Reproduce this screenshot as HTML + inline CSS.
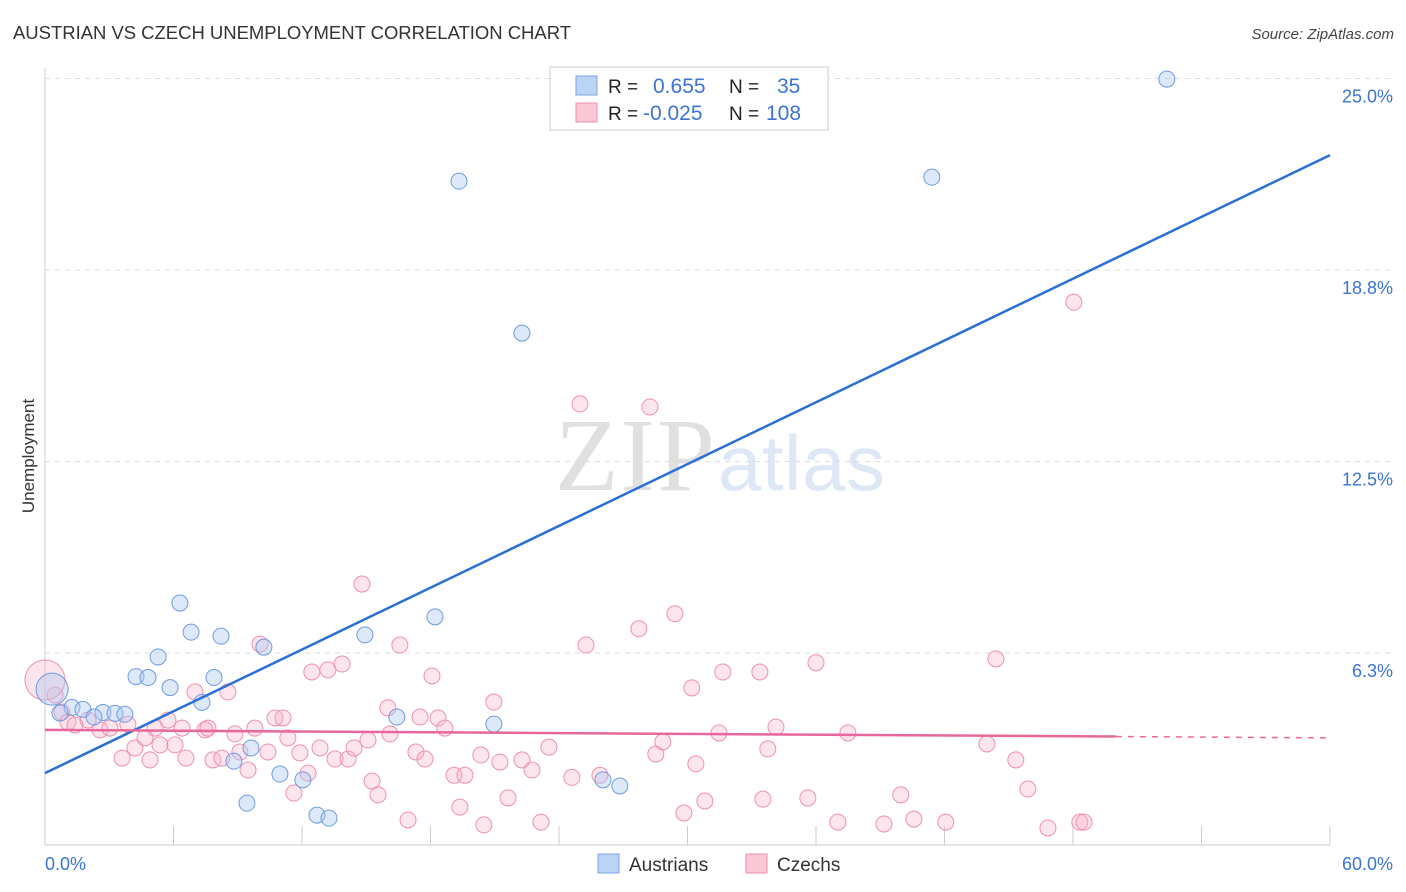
<!DOCTYPE html>
<html><head><meta charset="utf-8"><style>
body{margin:0;background:#fff;font-family:"Liberation Sans",sans-serif}
svg{display:block}
</style></head><body>
<svg id="c" width="1406" height="892" viewBox="0 0 1406 892">
<text x="13" y="39" font-size="18.5" fill="#333" textLength="558">AUSTRIAN VS CZECH UNEMPLOYMENT CORRELATION CHART</text>
<text x="1394" y="39" font-size="15" fill="#444" font-style="italic" text-anchor="end">Source: ZipAtlas.com</text>
<text x="34" y="456" font-size="17" fill="#333" text-anchor="middle" transform="rotate(-90 34 456)">Unemployment</text>
<g><text x="555" y="490" font-size="104" fill="#e0e0e0" font-family="Liberation Serif,serif" textLength="160">ZIP</text><text x="718" y="490" font-size="78" fill="#dde7f5" textLength="167">atlas</text></g>
<g id="grid"></g><g id="pts"></g><g id="lines"></g>
<g>
<rect x="550" y="67" width="278" height="63" fill="#fff" stroke="#ccc"/>
<rect x="576" y="76" width="21" height="19" fill="#bcd4f4" stroke="#7aa4e0"/>
<rect x="576" y="103" width="21" height="19" fill="#fbc8d8" stroke="#ee90ae"/>
<text x="608" y="93" font-size="19" fill="#222">R =</text><text x="653" y="93" font-size="21" fill="#3b74d1">0.655</text>
<text x="729" y="93" font-size="19" fill="#222">N =</text><text x="777" y="93" font-size="21" fill="#3b74d1">35</text>
<text x="608" y="120" font-size="19" fill="#222">R =</text><text x="643" y="120" font-size="21" fill="#3b74d1">-0.025</text>
<text x="729" y="120" font-size="19" fill="#222">N =</text><text x="766" y="120" font-size="21" fill="#3b74d1">108</text>
</g>
<g>
<rect x="598" y="854" width="21" height="19" fill="#bcd4f4" stroke="#7aa4e0"/><text x="629" y="871" font-size="19" fill="#333">Austrians</text>
<rect x="746" y="854" width="21" height="19" fill="#fbc8d8" stroke="#ee90ae"/><text x="777" y="871" font-size="19" fill="#333">Czechs</text>
</g>
</svg>
<script>
const yTicks=[6.25,12.5,18.75,25];
const yTickLabels=["6.3%","12.5%","18.8%","25.0%"];
const xTickVals=[0,6,12,18,24,30,36,42,48,54,60];
const xEndLabels=["0.0%","60.0%"];
const austX=[52.38,19.33,41.41,22.27,6.30,6.82,8.22,10.22,14.94,18.21,5.28,4.25,4.81,5.84,7.89,7.33,1.26,1.77,2.71,3.27,3.73,2.29,0.70,16.43,20.96,9.62,8.82,10.97,12.04,9.43,12.70,13.26,26.05,26.84,0.33];
const austY=[24.98,21.65,21.78,16.69,7.88,6.93,6.80,6.44,6.84,7.43,6.12,5.48,5.45,5.12,5.45,4.64,4.47,4.41,4.31,4.28,4.25,4.16,4.29,4.16,3.93,3.15,2.72,2.30,2.11,1.35,0.96,0.86,2.11,1.91,5.07];
const czX=[0.47,0.79,1.07,1.4,2.01,2.57,3.03,3.6,3.87,4.2,4.67,4.9,5.14,5.37,5.74,6.07,6.4,6.58,7.0,7.47,7.61,7.84,8.26,8.54,8.87,9.1,9.48,9.8,10.04,10.41,10.74,11.11,11.34,11.62,11.9,12.28,12.46,12.84,13.21,13.54,13.87,14.15,14.43,14.8,15.08,15.27,15.55,16.01,16.11,16.57,16.95,17.32,17.51,17.74,18.07,18.35,18.67,19.1,19.37,19.61,20.35,20.49,20.96,21.24,21.62,22.27,22.74,23.16,23.53,24.6,24.98,25.26,25.91,27.73,28.25,28.52,28.85,29.41,29.83,30.2,30.39,30.81,31.47,31.65,33.38,33.52,33.75,34.13,35.62,36.0,37.02,37.49,39.17,39.96,40.57,42.06,43.98,44.4,45.33,45.89,46.83,48.04,48.32,48.51];
const czY=[4.88,4.32,4.0,3.9,4.06,3.74,3.8,2.82,3.93,3.15,3.48,2.76,3.8,3.25,4.06,3.25,3.8,2.82,4.98,3.74,3.8,2.76,2.82,4.98,3.61,3.02,2.43,3.8,6.54,3.02,4.13,4.13,3.48,1.68,2.99,2.33,5.63,3.15,5.7,2.79,5.89,2.79,3.15,8.5,3.41,2.07,1.62,4.46,3.61,6.51,0.8,3.02,4.16,2.79,5.5,4.13,3.8,2.26,1.22,2.26,2.92,0.64,4.65,2.69,1.52,2.76,2.43,0.73,3.18,2.19,14.38,6.51,2.26,7.04,14.28,2.95,3.35,7.53,1.03,5.11,2.63,1.42,3.64,5.63,5.63,1.48,3.12,3.83,1.52,5.93,0.73,3.64,0.67,1.62,0.83,0.73,3.28,6.06,2.76,1.81,0.54,17.7,0.73,0.73];
const austTrend=[2.33,22.5];
const czTrend=[3.74,3.48];
const X=v=>45+v*1285/60, Y=v=>844.5-v*191.5/6.25;
const NS="http://www.w3.org/2000/svg";
function mk(p,t,a){const e=document.createElementNS(NS,t);for(const k in a)e.setAttribute(k,a[k]);p.appendChild(e);return e;}
const g=document.getElementById('grid'),pts=document.getElementById('pts'),ln=document.getElementById('lines');
const ax=mk(g,'line',{x1:45,y1:68,x2:45,y2:845,stroke:'#ccc'});

const bx=mk(g,'line',{x1:45,y1:845,x2:1330,y2:845,stroke:'#ccc'});

yTicks.forEach((v,i)=>{const l=mk(g,'line',{x1:45,x2:1394,y1:Y(v),y2:Y(v),stroke:'#ddd','stroke-dasharray':'5,5'});

const t=mk(g,'text',{x:1393,y:Y(v)+24,'font-size':18,fill:'#3b74d1','text-anchor':'end'});t.textContent=yTickLabels[i];
});
xTickVals.forEach(v=>{const l=mk(g,'line',{x1:X(v),x2:X(v),y1:826,y2:845,stroke:'#ccc'});
});
const t0=mk(g,'text',{x:45,y:870,'font-size':18,fill:'#3b74d1'});t0.textContent=xEndLabels[0];

const t1=mk(g,'text',{x:1393,y:870,'font-size':18,fill:'#3b74d1','text-anchor':'end'});t1.textContent=xEndLabels[1];

czX.forEach((x,i)=>{const c=mk(pts,'circle',{cx:X(x),cy:Y(czY[i]),r:8,fill:'rgba(248,180,202,0.35)',stroke:'#ee90ae','stroke-width':1});
});
const big=mk(pts,'circle',{cx:X(0),cy:Y(5.37),r:20,fill:'rgba(248,180,202,0.35)',stroke:'#ee90ae'});

austX.forEach((x,i)=>{const c=mk(pts,'circle',{cx:X(x),cy:Y(austY[i]),r:i==austX.length-1?16:8,fill:'rgba(170,200,240,0.4)',stroke:'#6f9be0','stroke-width':1});
});
const bl=mk(ln,'line',{x1:X(0),y1:Y(austTrend[0]),x2:X(60),y2:Y(austTrend[1]),stroke:'#2a6fd6','stroke-width':2.5});

const cz50=czTrend[0]+(czTrend[1]-czTrend[0])*50/60;
const pl=mk(ln,'line',{x1:X(0),y1:Y(czTrend[0]),x2:X(50),y2:Y(cz50),stroke:'#e8679a','stroke-width':2.5});

const pd=mk(ln,'line',{x1:X(50),y1:Y(cz50),x2:X(60),y2:Y(czTrend[1]),stroke:'#e8679a','stroke-width':1.5,'stroke-dasharray':'6,6'});

</script>
</body></html>
